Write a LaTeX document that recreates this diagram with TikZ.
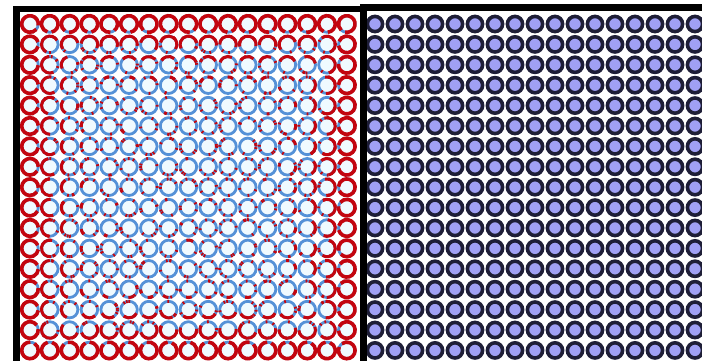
\documentclass[tikz,border=0pt]{standalone}
\definecolor{ringred}{RGB}{195,5,15}
\definecolor{ringblue}{RGB}{85,145,215}
\definecolor{cellfill}{RGB}{240,250,255}
\definecolor{dotfill}{RGB}{160,160,245}
\definecolor{dotring}{RGB}{30,30,55}
\tikzset{
  cell/.style={draw=ringblue, fill=cellfill, line width=2.8pt},
  redarc/.style={draw=ringred, line width=3pt},
  dot/.style={draw=dotring, fill=dotfill, line width=3.6pt},
}

\begin{document}
\begin{tikzpicture}[x=1pt, y=1pt]
  \clip (0,0) rectangle (702,-361);
  \fill[white] (0,0) rectangle (702,-361);
  \pgfmathsetseed{11}
  % left panel: rings with red and blue parts
  \foreach \i in {0,...,16}
    \foreach \j in {0,...,16} {
      \pgfmathsetmacro{\cx}{30+19.8*\i}
      \pgfmathsetmacro{\cy}{-(24+20.4*\j)}
      \pgfmathtruncatemacro{\d}{min(min(\i,\j),min(16-\i,16-\j))}
      \draw[cell] (\cx,\cy) circle (8.3);
      \ifnum\d<4
        \pgfmathsetmacro{\dx}{(16-\i==\d)-(\i==\d)}
        \pgfmathsetmacro{\dy}{(\j==\d)-(16-\j==\d)}
        \pgfmathsetmacro{\th}{atan2(\dy,\dx)}
        \pgfmathsetmacro{\s}{{330,200,100,40}[\d]}
        \pgfmathsetmacro{\lw}{\d==0 ? 3.6 : 3}
        \pgfmathsetmacro{\a}{\th-\s/2+30*rand}
        \draw[redarc, line width=\lw pt] (\cx,\cy) ++(\a:8.3) arc[start angle=\a, delta angle=\s, radius=8.3];
      \fi
      \ifnum\d>0
        \foreach \k in {1,...,5} {
          \pgfmathsetmacro{\t}{360*rnd}
          \draw[redarc] (\cx,\cy) ++(\t:8.3) arc[start angle=\t, delta angle=12, radius=8.3];
        }
      \fi
    }
  % right panel: filled dots
  \foreach \i in {0,...,16}
    \foreach \j in {0,...,16}
      \draw[dot] (375+20*\i, -24-20.4*\j) circle (7.6);
  % frames
  \fill[black] (13,-6) rectangle (20,-361);
  \fill[black] (13,-6) rectangle (362,-12.5);
  \fill[black] (360,-4.5) rectangle (367,-361);
  \fill[black] (360,-4.5) rectangle (702,-11);
\end{tikzpicture}
\end{document}
